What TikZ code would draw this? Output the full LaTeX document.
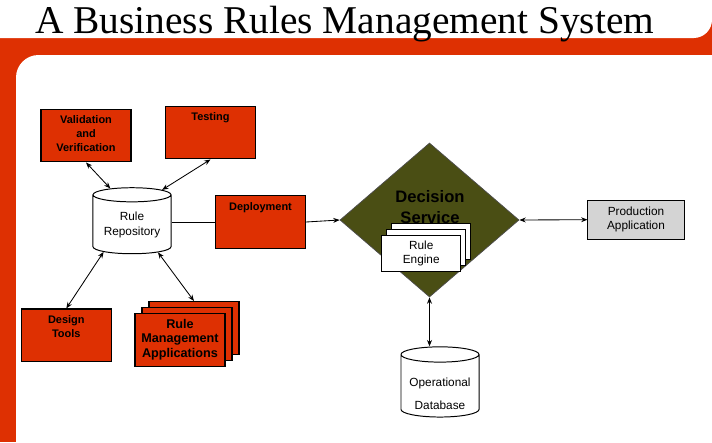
\documentclass[tikz,border=0pt]{standalone}
\usepackage{fontspec}
\setmainfont{Liberation Serif}
\setsansfont{Liberation Sans}
\usetikzlibrary{shapes.geometric,arrows.meta,positioning}
\definecolor{brmsred}{RGB}{222,48,2}
\definecolor{brmsolive}{RGB}{74,78,20}
\definecolor{brmsgray}{RGB}{212,212,212}
\tikzset{
  >={Stealth[length=4.5pt,width=3.5pt]},
  redbox/.style={draw=black, fill=brmsred, line width=0.8pt, minimum width=2.25cm, minimum height=1.32cm, inner sep=0pt},
  boxtext/.style={anchor=north, align=center, inner sep=0pt, font=\sffamily\bfseries\fontsize{7.8}{10}\selectfont},
  store/.style={cylinder, shape border rotate=90, draw=black, fill=white, line width=0.7pt, aspect=0.25, minimum width=1.95cm, minimum height=1.65cm, inner sep=0pt, align=center, font=\sffamily\fontsize{8.4}{10.6}\selectfont},
  enginebox/.style={draw=black, fill=white, line width=0.7pt, minimum width=1.975cm, minimum height=0.9cm, inner sep=0pt, align=center, font=\sffamily\fontsize{8.4}{10}\selectfont},
  conn/.style={line width=0.6pt}
}
\begin{document}
\begin{tikzpicture}[x=0.025cm,y=-0.025cm]
  \useasboundingbox (0,0) rectangle (712,442);
  % frame
  \fill[brmsred] (0,22) rectangle (712,442);
  \fill[white, rounded corners=13] (-20,-20) rectangle (712,38);
  \fill[white, rounded corners=16] (16,55) rectangle (740,470);
  \node[anchor=base west, inner sep=0pt, font=\fontsize{28}{30}\selectfont] (title) at (35,33) {A Business Rules Management System};

  % left side
  \node[redbox] (valid) at (86,135.5) {};
  \node[boxtext] (validtxt) at ([yshift=-5pt]valid.north) {Validation\\and\\Verification};
  \node[redbox] (test) at (210.5,132.5) {};
  \node[boxtext] (testtxt) at ([yshift=-5pt]test.north) {Testing};
  \node[store] (repo) at (132,224.5) {Rule\\Repository};
  \node[redbox] (deploy) at (260.5,222) {};
  \node[boxtext] (deploytxt) at ([yshift=-5pt]deploy.north) {Deployment};
  \node[redbox] (design) at (66.3,335.4) {};
  \node[boxtext] (designtxt) at ([yshift=-5pt]design.north) {Design\\Tools};
  \node[redbox] (rma3) at (194,328) {};
  \node[redbox] (rma2) at (187,333.8) {};
  \node[redbox, align=center, font=\sffamily\bfseries\fontsize{9}{10.4}\selectfont] (rma1) at (180,339.7) {Rule\\Management\\Applications};

  % decision service
  \node[diamond, fill=brmsolive, draw=black!70, line width=0.5pt, minimum width=4.475cm, minimum height=3.85cm, inner sep=0pt] (dia) at (429.5,220) {};
  \node[align=center, inner sep=0pt, font=\sffamily\bfseries\fontsize{11.8}{14.4}\selectfont] (diatxt) at (430,207) {Decision\\Service};
  \node[enginebox] (re3) at (431.2,241.8) {};
  \node[enginebox] (re2) at (426.2,247.8) {};
  \node[enginebox] (re1) at (421.2,253.8) {Rule\\Engine};

  \node[draw=black, fill=brmsgray, line width=0.7pt, minimum width=2.4cm, minimum height=0.975cm, inner sep=0pt, align=center, font=\sffamily\fontsize{8.4}{10}\selectfont] (prod) at (636,219.7) {Production\\Application};
  \node[store, minimum height=1.7cm] (opdb) at (440,386) {\rule{0pt}{17pt}Operational\\[5.6pt]Database};

  % connectors
  \draw[conn,<->] (repo.121) -- (valid.south);
  \draw[conn,<->] (repo.49) -- (test.south);
  \draw[conn,<->] (repo.224) -- (design.north);
  \draw[conn,<->] (repo.313) -- (rma3.north);
  \draw[conn] (repo.east |- deploy.west) -- (deploy.west);
  \draw[conn,->] (deploy.east) -- (dia.west);
  \draw[conn,<->] (dia.east) -- (prod.west);
  \draw[conn,<->] (dia.south) -- (dia.south |- opdb.north);
\end{tikzpicture}
\end{document}
